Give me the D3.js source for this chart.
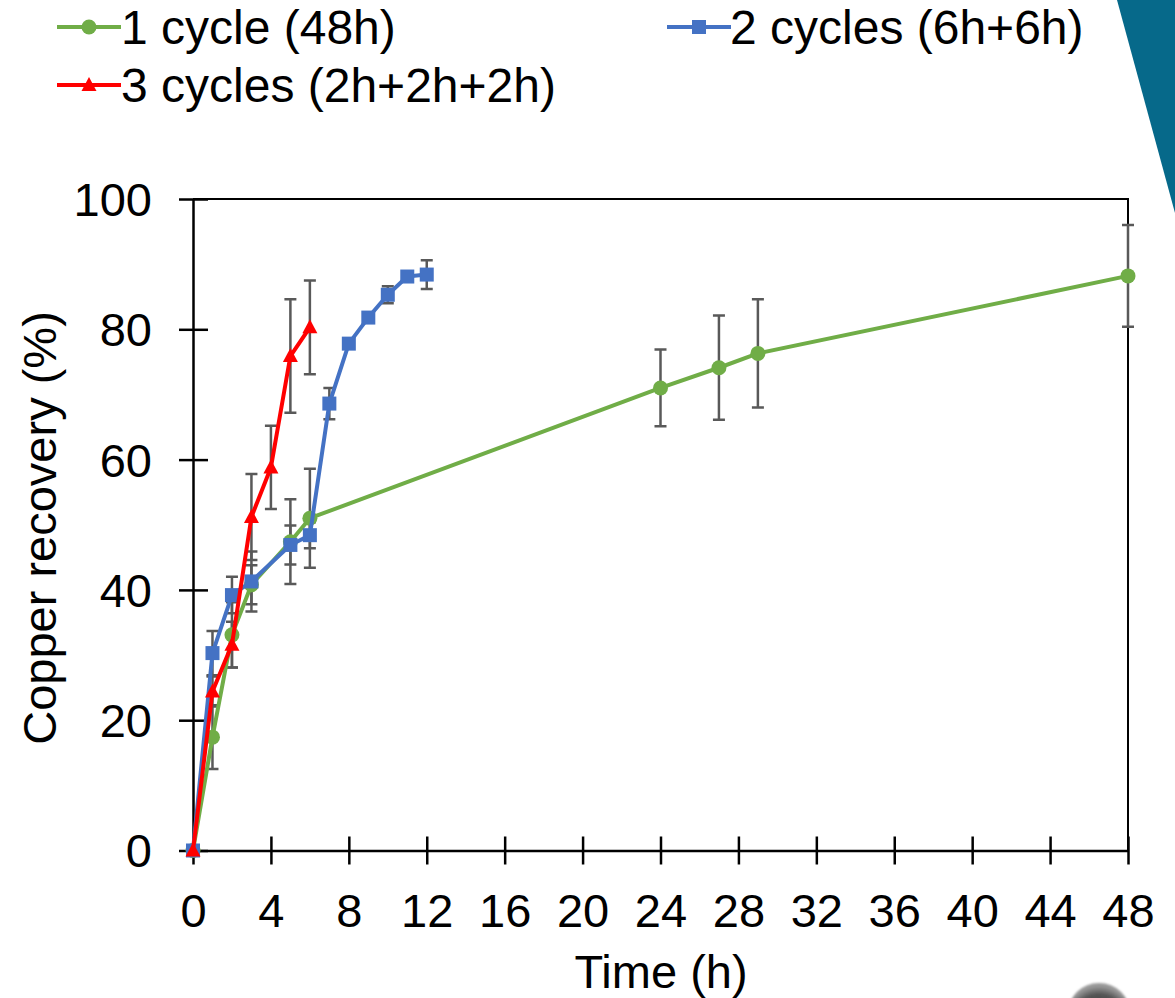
<!DOCTYPE html>
<html>
<head>
<meta charset="utf-8">
<script src="https://cdn.jsdelivr.net/npm/d3@7"></script>
<style>
  html, body { margin: 0; padding: 0; background: #fff; }
  svg { display: block; }
  text { font-family: "Liberation Sans", Arial, sans-serif; fill: #000; }
</style>
</head>
<body>
<svg id="chart" width="1175" height="998"></svg>
<script>
// Copper recovery over time for three leaching schedules (mean ± error)
const oneCycleTime  = [0, 1, 2, 3, 5, 6, 24, 27, 29, 48];
const oneCycleValue = [0, 17.4, 33.1, 40.8, 47.4, 51.0, 71.0, 74.1, 76.3, 88.2];
const oneCycleError = [0, 4.9, 5.0, 3.0, 6.5, 7.6, 5.9, 8.0, 8.3, 7.8];

const twoCycleTime  = [0, 1, 2, 3, 5, 6, 7, 8, 9, 10, 11, 12];
const twoCycleValue = [0, 30.3, 39.2, 41.3, 46.9, 48.4, 68.6, 77.8, 81.8, 85.3, 88.1, 88.4];
const twoCycleError = [0, 3.4, 2.8, 4.6, 3.0, 2.0, 2.4, 0.6, 0.6, 1.3, 0.6, 2.2];

const threeCycleTime  = [0, 1, 2, 3, 4, 5, 6];
const threeCycleValue = [0, 24.4, 31.6, 51.2, 58.8, 75.9, 80.3];
const threeCycleError = [0, 2.3, 3.5, 6.6, 6.4, 8.7, 7.2];

const seriesNames  = ["1 cycle (48h)", "2 cycles (6h+6h)", "3 cycles (2h+2h+2h)"];
const xTickValues  = [0, 4, 8, 12, 16, 20, 24, 28, 32, 36, 40, 44, 48];
const yTickValues  = [0, 20, 40, 60, 80, 100];
const xTitle = "Time (h)";
const yTitle = "Copper recovery (%)";

const zip = (t, v, e) => t.map((d, i) => ({ t: d, v: v[i], e: e[i] }));
const series = [
  { name: seriesNames[0], color: "#70AD47", marker: "circle",   data: zip(oneCycleTime, oneCycleValue, oneCycleError) },
  { name: seriesNames[1], color: "#4472C4", marker: "square",   data: zip(twoCycleTime, twoCycleValue, twoCycleError) },
  { name: seriesNames[2], color: "#FF0000", marker: "triangle", data: zip(threeCycleTime, threeCycleValue, threeCycleError) }
];

const svg = d3.select("#chart");
svg.append("rect").attr("width", 1175).attr("height", 998).attr("fill", "#fff");

// slide decorations
svg.append("path")
  .attr("d", "M1117,0 L1175,0 L1175,213 Z")
  .attr("fill", "#06698A");
const defs = svg.append("defs");
const rg = defs.append("radialGradient").attr("id", "dome").attr("cx", "50%").attr("cy", "60%").attr("r", "55%");
rg.append("stop").attr("offset", "0%").attr("stop-color", "#2e2e2e");
rg.append("stop").attr("offset", "75%").attr("stop-color", "#555");
rg.append("stop").attr("offset", "100%").attr("stop-color", "#9a9a9a");
defs.append("filter").attr("id", "soft").append("feGaussianBlur").attr("stdDeviation", 1);
svg.append("ellipse")
  .attr("cx", 1099).attr("cy", 1013).attr("rx", 31).attr("ry", 30)
  .attr("fill", "url(#dome)").attr("filter", "url(#soft)");

const plot = { left: 193, right: 1128, top: 199, bottom: 850.5 };
const x = d3.scaleLinear().domain([0, 48]).range([plot.left, plot.right]);
const y = d3.scaleLinear().domain([0, 100]).range([plot.bottom, plot.top]);

// frame (top and right)
svg.append("path")
  .attr("d", `M${plot.left},${plot.top} H${plot.right} V${plot.bottom}`)
  .attr("fill", "none").attr("stroke", "#000").attr("stroke-width", 2);

// axes with ticks crossing the axis line
const yAxis = svg.append("g").attr("transform", `translate(${plot.left},0)`)
  .call(d3.axisLeft(y).tickValues(yTickValues).tickSizeInner(14).tickSizeOuter(0).tickPadding(4));
yAxis.select(".domain").attr("stroke", "#000").attr("stroke-width", 2.5);
yAxis.selectAll(".tick line").attr("x2", 15).attr("x1", -14).attr("stroke", "#000").attr("stroke-width", 2.5);
yAxis.selectAll(".tick text").attr("font-size", 47).attr("x", -41).attr("dy", "0.35em")
  .style("font-family", "'Liberation Sans', Arial, sans-serif");

const xAxis = svg.append("g").attr("transform", `translate(0,${plot.bottom})`)
  .call(d3.axisBottom(x).tickValues(xTickValues).tickSizeInner(14).tickSizeOuter(0));
xAxis.select(".domain").attr("stroke", "#000").attr("stroke-width", 2.5);
xAxis.selectAll(".tick line").attr("y1", -14).attr("y2", 14).attr("stroke", "#000").attr("stroke-width", 2.5);
xAxis.selectAll(".tick text").attr("font-size", 47).attr("y", 76).attr("dy", 0)
  .style("font-family", "'Liberation Sans', Arial, sans-serif");

// axis titles
svg.append("text").attr("x", 661).attr("y", 988).attr("text-anchor", "middle")
  .attr("font-size", 47).text(xTitle);
svg.append("text").attr("transform", "translate(56,528) rotate(-90)").attr("text-anchor", "middle")
  .attr("font-size", 47).text(yTitle);

// error bars beneath the series
const errG = svg.append("g");
series.forEach(s => {
  s.data.filter(d => d.e > 0).forEach(d => {
    const cx = x(d.t), y1 = y(d.v + d.e), y2 = y(d.v - d.e);
    errG.append("path")
      .attr("d", `M${cx},${y1} V${y2} M${cx - 6},${y1} H${cx + 6} M${cx - 6},${y2} H${cx + 6}`)
      .attr("stroke", "#595959").attr("stroke-width", 2.5).attr("fill", "none");
  });
});

function drawMarker(g, type, cx, cy, color) {
  if (type === "circle") {
    g.append("circle").attr("cx", cx).attr("cy", cy).attr("r", 7.5).attr("fill", color);
  } else if (type === "square") {
    g.append("rect").attr("x", cx - 7).attr("y", cy - 7).attr("width", 14).attr("height", 14).attr("fill", color);
  } else {
    g.append("path").attr("d", `M${cx},${cy - 8} L${cx + 7.5},${cy + 6} L${cx - 7.5},${cy + 6} Z`).attr("fill", color);
  }
}

const line = d3.line().x(d => x(d.t)).y(d => y(d.v));
series.forEach(s => {
  const g = svg.append("g");
  g.append("path").datum(s.data).attr("d", line)
    .attr("fill", "none").attr("stroke", s.color).attr("stroke-width", 4).attr("stroke-linejoin", "round");
  s.data.forEach(d => drawMarker(g, s.marker, x(d.t), y(d.v), s.color));
});

// legend
const legendPos = [
  { lx: 57, ly: 27, tx: 121 },
  { lx: 667, ly: 27, tx: 730 },
  { lx: 57, ly: 85, tx: 121 }
];
series.forEach((s, i) => {
  const p = legendPos[i];
  const g = svg.append("g");
  g.append("line").attr("x1", p.lx).attr("x2", p.lx + 64).attr("y1", p.ly).attr("y2", p.ly)
    .attr("stroke", s.color).attr("stroke-width", 4);
  drawMarker(g, s.marker, p.lx + 32, p.ly, s.color);
  g.append("text").attr("x", p.tx).attr("y", p.ly + 17).attr("font-size", 48).text(s.name);
});
</script>
</body>
</html>
